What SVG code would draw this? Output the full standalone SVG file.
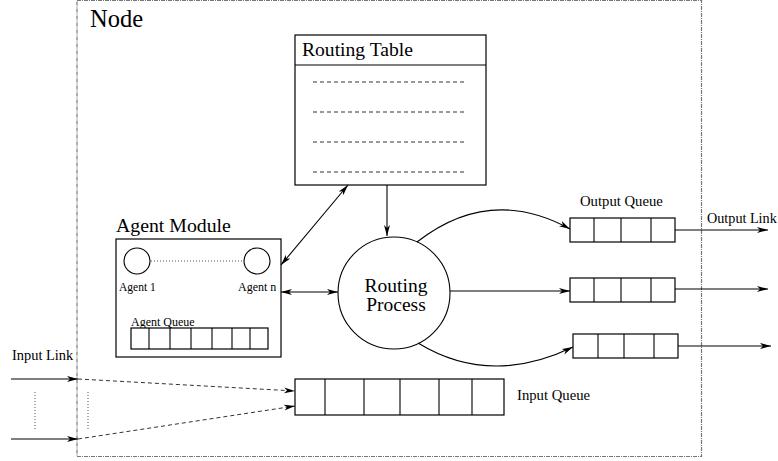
<svg xmlns="http://www.w3.org/2000/svg" width="778" height="461" viewBox="0 0 778 461">
<style>
text{font-family:"Liberation Serif","DejaVu Serif",serif;fill:#000}
.box{fill:#fff;stroke:#000;stroke-width:1.2}
.ln{fill:none;stroke:#000;stroke-width:1.1}
.dash{fill:none;stroke:#333;stroke-width:1;stroke-dasharray:4,3}
.dot{fill:none;stroke:#555;stroke-width:1;stroke-dasharray:1,2}
.bound{fill:none;stroke:#777;stroke-width:1.2;stroke-dasharray:4,1,1,1}
</style>
<defs>
<marker id="ah" markerUnits="userSpaceOnUse" markerWidth="12" markerHeight="8" refX="11" refY="3" orient="auto-start-reverse" viewBox="0 0 12 6">
<path d="M0,0 L11,3 L0,6 L3,3 z" fill="#000"/>
</marker>
</defs>
<g font-family="Liberation Serif, DejaVu Serif, serif">
<rect class="bound" x="77" y="0.5" width="624.5" height="456"/>
<text x="90" y="27" font-size="24.5">Node</text>

<g id="routing-table">
<rect class="box" x="295" y="35" width="191" height="150"/>
<line class="ln" x1="295" y1="65" x2="486" y2="65"/>
<text x="302" y="56" font-size="19.6">Routing Table</text>
<line class="dash" x1="313" y1="82" x2="466" y2="82"/>
<line class="dash" x1="313" y1="112" x2="466" y2="112"/>
<line class="dash" x1="313" y1="142" x2="466" y2="142"/>
<line class="dash" x1="313" y1="172" x2="466" y2="172"/>
</g>

<g id="agent-module">
<text x="116" y="232" font-size="19.8">Agent Module</text>
<rect class="box" x="116" y="239" width="165" height="118"/>
<circle class="ln" cx="137" cy="261" r="13"/>
<circle class="ln" cx="257" cy="261" r="13"/>
<line class="dot" x1="151" y1="261" x2="243" y2="261"/>
<text x="119" y="291" font-size="11.5">Agent 1</text>
<text x="238" y="291" font-size="12">Agent n</text>
<text x="131" y="326" font-size="12">Agent Queue</text>
<rect class="box" x="131" y="328" width="137" height="21"/>
<path class="ln" d="M149,328V349M170,328V349M191,328V349M212,328V349M232,328V349M250,328V349"/>
</g>

<g id="routing-process">
<circle class="ln" cx="394" cy="293" r="56"/>
<text x="396" y="292" font-size="19.5" text-anchor="middle">Routing</text>
<text x="396" y="311" font-size="19.5" text-anchor="middle">Process</text>
</g>

<g id="output-queue-1">
<text x="580" y="206" font-size="14.7">Output Queue</text>
<rect class="box" x="570" y="218" width="105" height="24"/>
<path class="ln" d="M594,218V242M621,218V242M651,218V242"/>
</g>
<g id="output-queue-2">
<rect class="box" x="570" y="278" width="105" height="24"/>
<path class="ln" d="M594,278V302M621,278V302M651,278V302"/>
</g>
<g id="output-queue-3">
<rect class="box" x="573" y="334" width="105" height="24"/>
<path class="ln" d="M598,334V358M624,334V358M654,334V358"/>
</g>

<g id="input-queue">
<rect class="box" x="295" y="379" width="209" height="36"/>
<path class="ln" d="M325,379V415M364,379V415M400,379V415M439,379V415M472,379V415"/>
<text x="517" y="400" font-size="14.7">Input Queue</text>
</g>

<g id="labels">
<text x="707" y="223" font-size="14.2">Output Link</text>
<text x="12" y="360" font-size="14.4">Input Link</text>
</g>

<g id="connectors">
<line class="ln" x1="387" y1="185" x2="387" y2="236" marker-end="url(#ah)"/>
<line class="ln" x1="348" y1="185" x2="281" y2="265" marker-start="url(#ah)" marker-end="url(#ah)"/>
<line class="ln" x1="281" y1="292" x2="338" y2="292" marker-start="url(#ah)" marker-end="url(#ah)"/>
<path class="ln" d="M417,242 Q490,185 570,229" marker-end="url(#ah)"/>
<line class="ln" x1="450" y1="291" x2="570" y2="291" marker-end="url(#ah)"/>
<path class="ln" d="M418,343 Q490,387 573,347" marker-end="url(#ah)"/>
<line class="ln" x1="675" y1="230" x2="768" y2="230" marker-end="url(#ah)"/>
<line class="ln" x1="675" y1="289" x2="768" y2="289" marker-end="url(#ah)"/>
<line class="ln" x1="678" y1="346" x2="771" y2="346" marker-end="url(#ah)"/>
<line class="ln" x1="11" y1="379" x2="78" y2="379" marker-end="url(#ah)"/>
<line class="ln" x1="11" y1="439" x2="78" y2="439" marker-end="url(#ah)"/>
<line class="dash" x1="78" y1="379" x2="295" y2="391" marker-end="url(#ah)"/>
<line class="dash" x1="78" y1="439" x2="295" y2="406" marker-end="url(#ah)"/>
<line class="dot" x1="35" y1="392" x2="35" y2="429"/>
<line class="dot" x1="88" y1="392" x2="88" y2="429"/>
</g>
</g>
</svg>
